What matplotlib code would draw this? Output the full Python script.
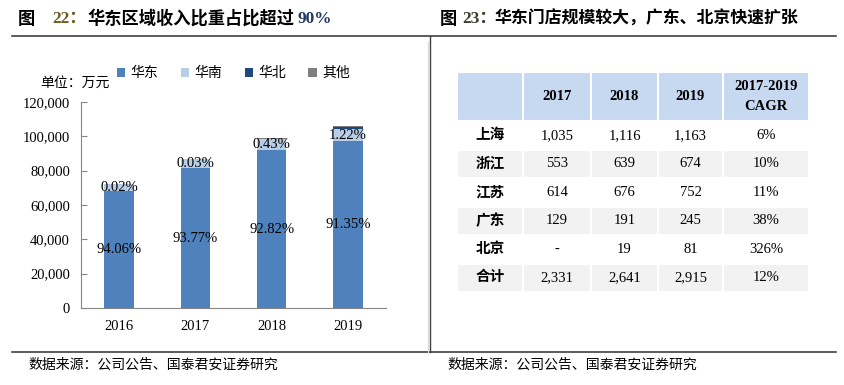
import matplotlib.pyplot as plt
import numpy as np
from matplotlib.lines import Line2D

plt.rcParams['font.family'] = ['Liberation Serif', 'Noto Sans CJK SC']

# left chart data (万元)
years = ['2016', '2017', '2018', '2019']
east = [68000, 81400, 91900, 97000]
south = [4270, 5370, 6300, 7400]
north = [15, 26, 425, 1300]
other = [0, 0, 380, 500]
east_pct = ['94.06%', '93.77%', '92.82%', '91.35%']
top_pct = ['0.02%', '0.03%', '0.43%', '1.22%']
regions = ['华东', '华南', '华北', '其他']

# right table data
tbl_cols = ['', '2017', '2018', '2019', '2017-2019\nCAGR']
tbl_rows = ['上海', '浙江', '江苏', '广东', '北京', '合计']
tbl_2017 = ['1,035', '553', '614', '129', '-', '2,331']
tbl_2018 = ['1,116', '639', '676', '191', '19', '2,641']
tbl_2019 = ['1,163', '674', '752', '245', '81', '2,915']
tbl_cagr = ['6%', '10%', '11%', '38%', '326%', '12%']

W, H = 845, 385
fig = plt.figure(figsize=(W / 100, H / 100), dpi=100)


def fx(px):
    return px / W


def fy(py):
    return 1 - py / H


cjk = ['Noto Sans CJK SC']
mix = ['Liberation Serif', 'Noto Sans CJK SC']

# titles
fig.text(fx(18), fy(19), '图', family=cjk, weight='bold', fontsize=12.4, va='center')
fig.text(fx(52), fy(19), '22：', family=mix, weight='bold', fontsize=12.4, va='center', color='#6b5a1e')
fig.text(fx(87), fy(19), '华东区域收入比重占比超过', family=cjk, weight='bold', fontsize=12.4, va='center')
fig.text(fx(298), fy(19), '90%', family=mix, weight='bold', fontsize=12.4, va='center', color='#1f3864')

fig.text(fx(440), fy(19), '图', family=cjk, weight='bold', fontsize=12.4, va='center')
fig.text(fx(462), fy(19), '23：', family=mix, weight='bold', fontsize=12.4, va='center', color='#3b3b2a')
fig.text(fx(495), fy(19), '华东门店规模较大，广东、北京快速扩张', family=cjk, weight='bold', fontsize=12.2, va='center')

# frame lines
fig.add_artist(Line2D([fx(12), fx(836)], [fy(36), fy(36)], color='#404040', lw=1.2))
fig.add_artist(Line2D([fx(12), fx(836)], [fy(352), fy(352)], color='#404040', lw=1.2))
fig.add_artist(Line2D([fx(430.5), fx(430.5)], [fy(36), fy(352)], color='#404040', lw=1.0))
fig.add_artist(Line2D([fx(428), fx(428)], [fy(42), fy(352)], color='#d9d9d9', lw=0.8))

# sources
fig.text(fx(28), fy(365), '数据来源：公司公告、国泰君安证券研究', family=cjk, fontsize=10, va='center')
fig.text(fx(447), fy(365), '数据来源：公司公告、国泰君安证券研究', family=cjk, fontsize=10, va='center')

# stacked bar chart
ax = fig.add_axes([fx(81), fy(308), fx(386) - fx(81), fy(102) - fy(308)])
x = np.arange(len(years))
w = 0.39
bot2 = np.array(east) + np.array(south)
bot3 = bot2 + np.array(north)
b1 = ax.bar(x, east, w, color='#4f81bd')
b2 = ax.bar(x, south, w, bottom=east, color='#b9cde5')
b3 = ax.bar(x, north, w, bottom=bot2, color='#1f497d')
b4 = ax.bar(x, other, w, bottom=bot3, color='#7f7f7f')

for i in range(len(years)):
    ax.text(x[i], east[i] / 2, east_pct[i], ha='center', va='center', fontsize=10.5)
    ax.text(x[i], east[i] + south[i] / 2, top_pct[i], ha='center', va='center', fontsize=10.5)

ax.set_xlim(-0.5, 3.5)
ax.set_ylim(0, 120000)
ax.set_yticks(np.arange(0, 120001, 20000))
ax.set_yticklabels([f'{v:,}' for v in range(0, 120001, 20000)])
ax.set_xticks(x)
ax.set_xticklabels(years)
for s in ['top', 'right']:
    ax.spines[s].set_visible(False)
for s in ['left', 'bottom']:
    ax.spines[s].set_color('#868686')
ax.tick_params(axis='y', direction='in', length=4, color='#868686', labelsize=10.5, pad=8)
ax.tick_params(axis='x', length=0, labelsize=10.5, pad=9)

ax.legend([b1, b2, b3, b4], regions, loc='center', bbox_to_anchor=(0.5, 1.14), ncol=4,
          frameon=False, handlelength=0.6, handleheight=0.6, handletextpad=0.4,
          columnspacing=1.6, prop={'family': cjk, 'size': 10})
fig.text(fx(40), fy(83), '单位：万元', family=cjk, fontsize=10, va='center')

# table
tax = fig.add_axes([fx(457), fy(292), fx(809) - fx(457), fy(72) - fy(292)])
tax.axis('off')
cell_text = [[tbl_rows[i], tbl_2017[i], tbl_2018[i], tbl_2019[i], tbl_cagr[i]] for i in range(len(tbl_rows))]
col_w = np.array([66, 68, 67, 65, 86], dtype=float)
tb = tax.table(cellText=cell_text, colLabels=tbl_cols, colWidths=list(col_w / col_w.sum()),
               cellLoc='center', bbox=[0, 0, 1, 1])
tb.auto_set_font_size(False)
tb.set_fontsize(10.5)
for (r, c), cell in tb.get_celld().items():
    cell.set_edgecolor('white')
    cell.set_linewidth(1.5)
    cell.set_height(49 if r == 0 else 28.3)
    if r == 0:
        cell.set_facecolor('#c6d9f1')
    elif r % 2 == 0:
        cell.set_facecolor('#f2f2f2')
    else:
        cell.set_facecolor('white')
    t = cell.get_text()
    t.set_family(mix)
    if r == 0 or c == 0:
        t.set_weight('bold')
    if r == 0:
        t.set_linespacing(1.7)

fig.savefig('out.png', dpi=100)
